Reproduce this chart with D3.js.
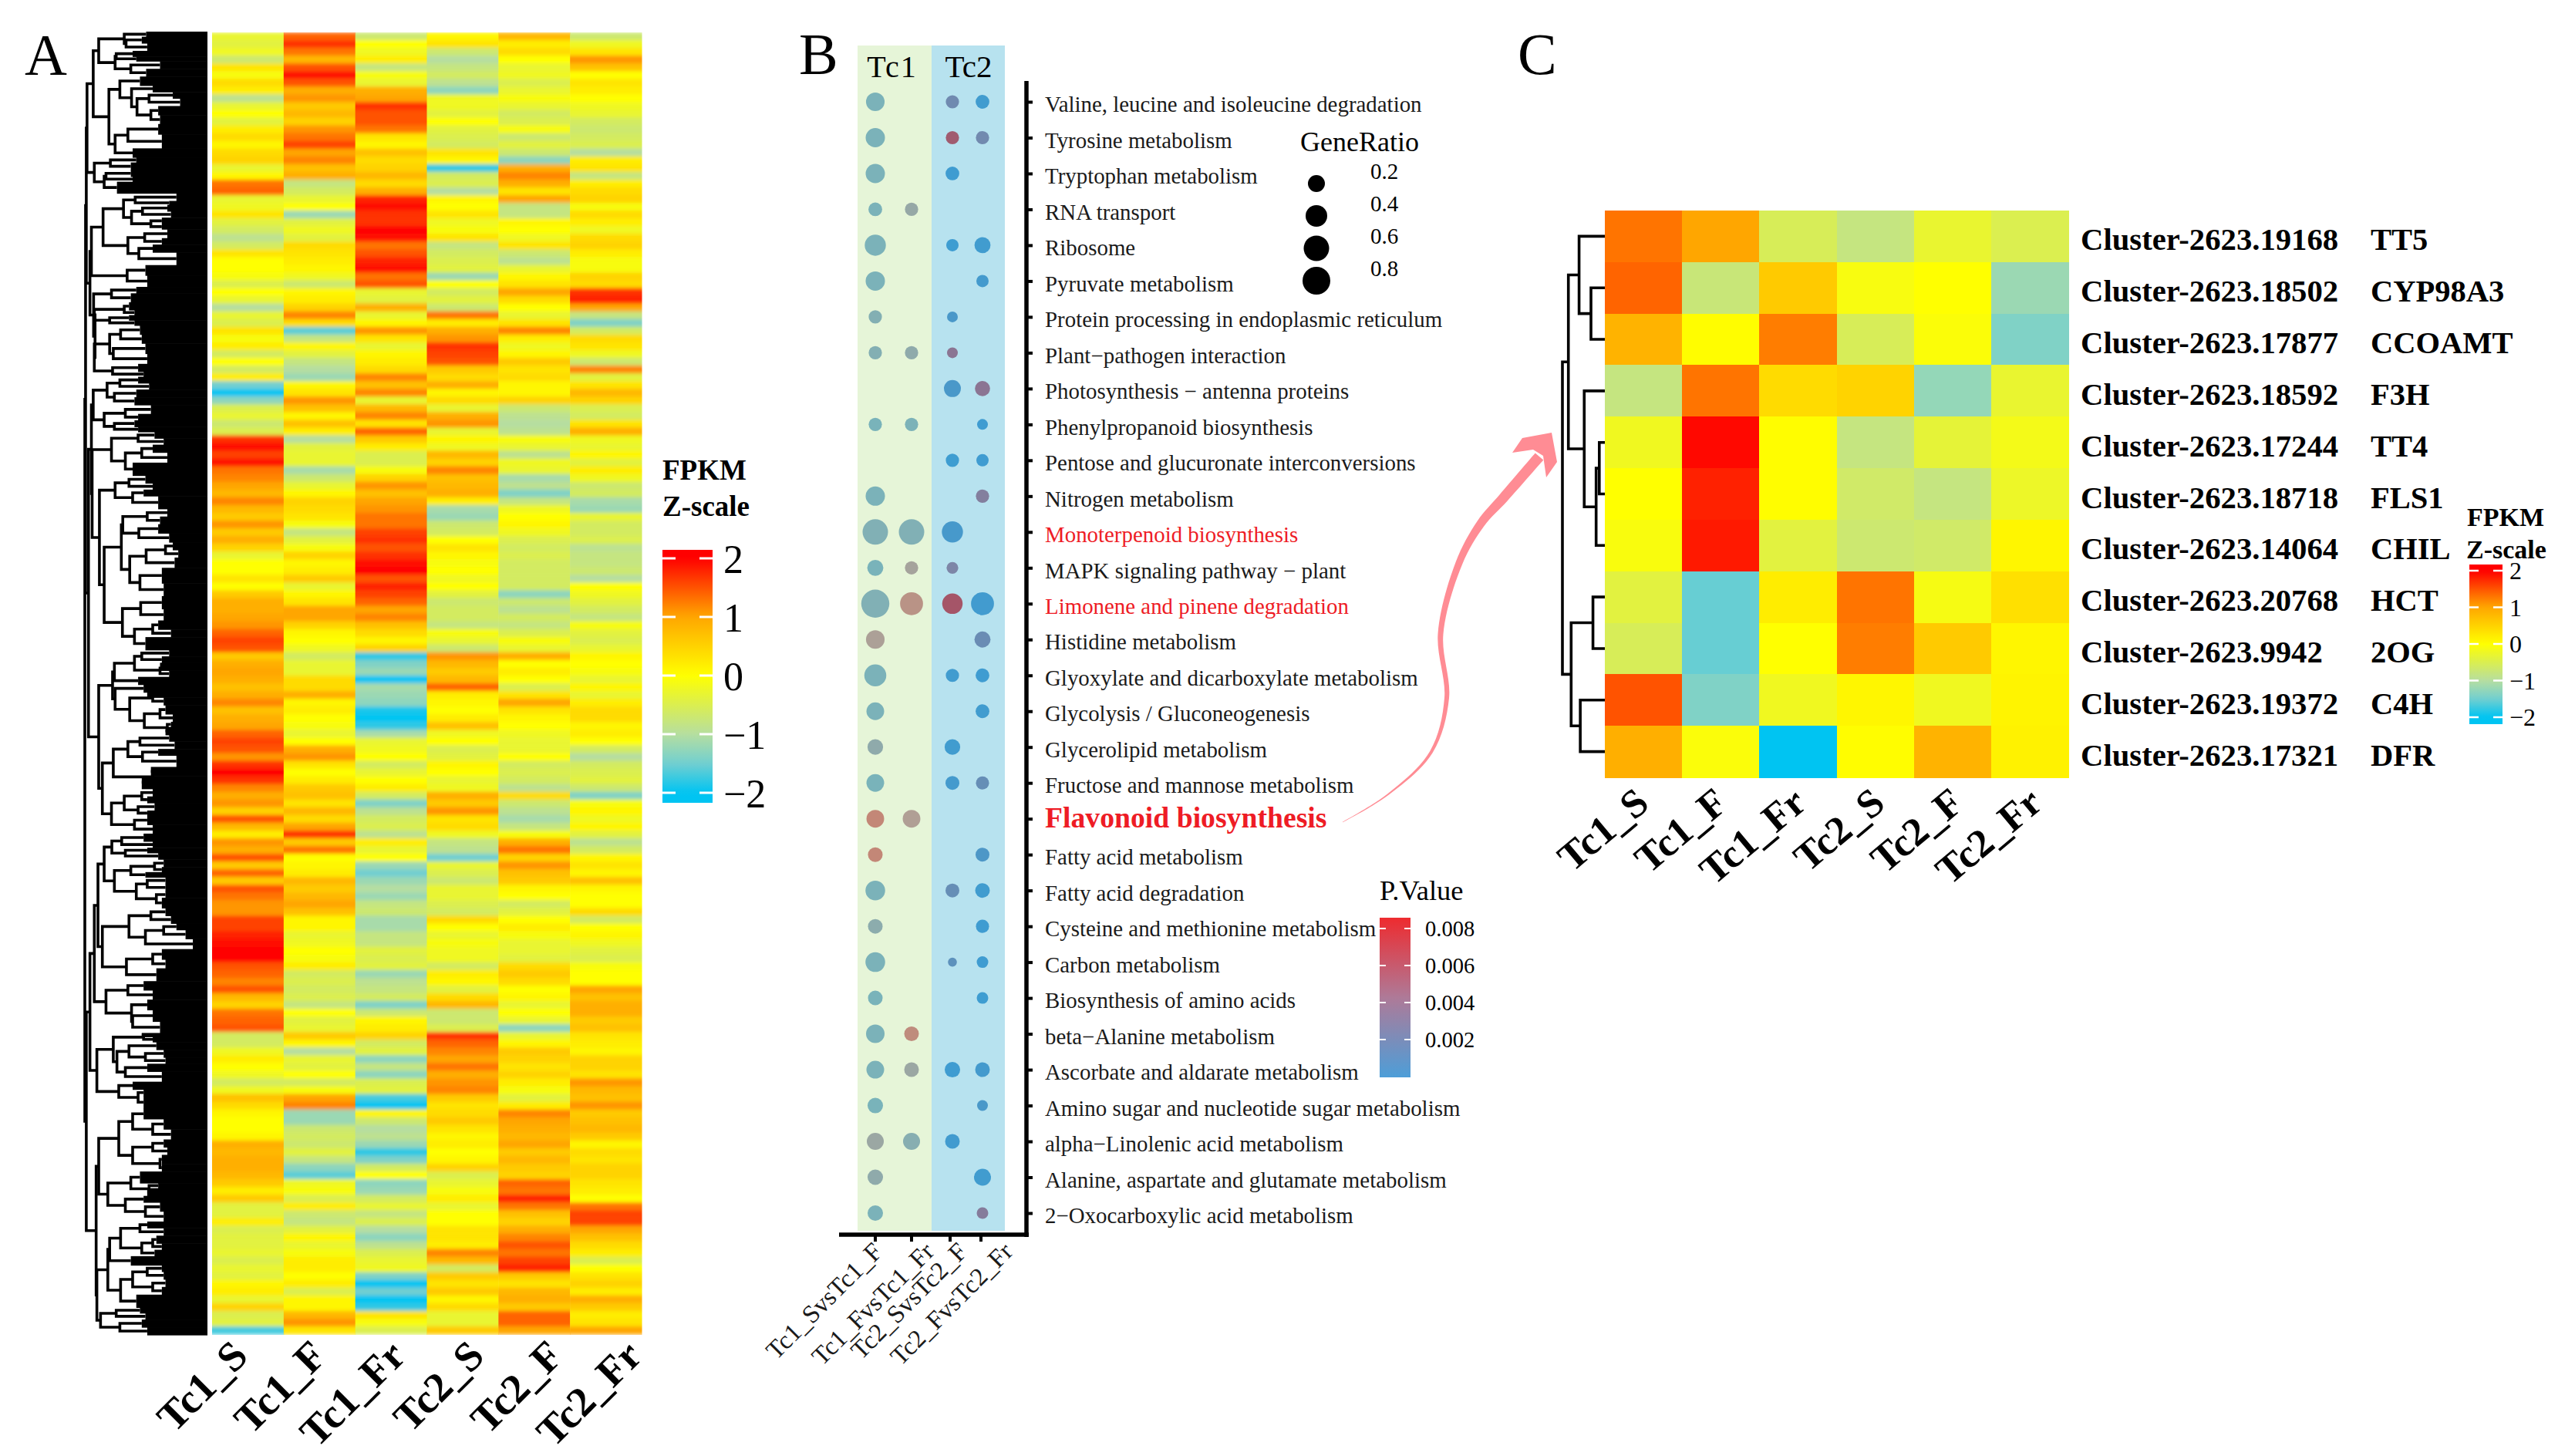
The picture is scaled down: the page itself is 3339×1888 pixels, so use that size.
<!DOCTYPE html>
<html><head><meta charset="utf-8">
<style>html,body{margin:0;padding:0;background:#fff}svg{display:block}text{font-family:"Liberation Serif",serif;fill:#000}</style>
<script src="https://cdn.jsdelivr.net/npm/d3@7"></script></head><body>
<script>
// ---------- Panel A values (z-score x 10, row by row from the top)
const samples=["Tc1_S","Tc1_F","Tc1_Fr","Tc2_S","Tc2_F","Tc2_Fr"];
const aTc1S=[-3,-4,-2,-7,3,-1,4,2,-9,-3,0,-4,2,4,1,4,5,-3,1,13,14,-3,-2,3,-4,-6,-9,-6,3,0,0,-1,-5,0,-3,-10,-3,-5,3,-1,2,-6,
0,-6,2,-15,-20,-13,-5,-3,-7,-5,17,19,16,19,13,12,10,8,12,8,6,11,6,9,5,-3,0,0,3,0,6,9,9,10,11,14,16,15,6,9,10,9,
7,9,12,7,9,10,14,16,15,11,17,20,17,12,9,11,5,15,8,2,11,9,15,6,14,6,15,13,11,11,16,16,18,19,20,20,15,14,12,15,8,5,
13,14,15,-6,-6,-2,2,0,-2,-6,-2,7,4,1,0,0,1,9,8,9,9,8,6,2,6,-4,-4,2,-5,-4,-4,-3,-5,-3,-4,1,2,-3,5,-5,-4,-17];
const aTc1F=[14,17,13,8,15,19,15,9,11,6,8,5,11,13,16,10,12,7,9,-8,-6,-3,0,-12,-4,-2,-4,4,3,2,1,-2,-7,1,2,5,12,4,-16,-8,1,-4,
-8,-10,-12,1,3,11,7,1,7,2,-10,-4,-3,-3,-11,-7,-3,1,5,4,3,-1,-8,-4,-1,5,1,2,6,-3,1,3,10,10,5,1,0,-2,-6,-3,-3,4,
4,9,1,2,0,-1,-3,0,9,11,3,0,2,6,7,3,8,4,10,17,6,13,0,1,2,8,6,8,10,7,1,1,-3,-2,0,-1,2,-6,-5,-6,-5,-8,
0,-4,-3,6,1,-10,-3,-4,0,-6,-1,10,12,-12,-12,-7,-6,-7,-4,-8,-13,-16,-2,-1,-5,2,-7,-8,-4,1,-3,-1,2,2,0,2,-5,1,1,8,11,3];
const aTc1Fr=[-7,0,-2,2,-8,-1,-3,9,10,17,15,15,13,3,1,7,4,5,8,4,9,18,19,17,17,20,19,13,15,18,19,13,15,-3,-4,9,-3,1,11,3,-3,1,
2,4,12,7,12,-3,8,12,3,14,6,2,-5,-5,-1,5,11,7,10,11,13,13,16,17,15,17,19,20,15,18,16,14,10,12,7,4,1,5,-18,-14,-12,-20,
-11,-12,-13,-19,-20,-18,-11,-3,-2,0,-6,-3,0,2,-6,-14,-9,-6,-5,-9,2,-3,0,-12,-15,-12,-10,-12,-8,-7,-11,-11,-8,-8,-4,-5,-4,-12,-9,-8,-6,-14,
-7,1,2,5,-6,-4,-13,-8,-13,-5,-4,-17,-20,1,-7,-10,-9,-12,-18,-14,-6,0,-13,-12,-6,-3,-8,-5,-10,-13,-9,-5,-3,-2,-14,-20,-15,-20,-18,3,-1,-5];
const aTc2S=[1,3,-7,-10,-8,-6,-9,-13,-2,-2,-4,0,-4,-5,-6,3,1,-18,-6,-5,-10,1,0,3,-2,-1,3,-8,-6,-5,-4,-12,0,-6,-4,-7,13,2,9,11,17,16,
15,6,4,9,1,4,-3,9,11,-3,1,-2,8,5,12,7,8,9,2,-11,-12,-7,-6,0,3,1,-1,0,-2,0,-4,-7,-6,-6,-8,-1,-3,-7,11,8,6,8,
14,2,1,0,2,7,-2,0,-5,-4,1,0,-3,-2,9,6,11,3,4,-2,-8,-9,-15,-3,-5,-7,-3,-3,-5,-6,4,0,-3,-1,-2,-2,-6,2,1,-4,4,8,
-7,-7,-5,17,14,12,10,13,9,11,12,6,3,4,6,3,1,2,0,1,5,-5,-3,-1,2,-3,0,0,3,3,2,12,8,-6,6,3,6,1,4,-3,-3,6];
const aTc2F=[8,2,4,0,-3,-2,-5,-3,-1,-3,-6,-5,-1,-7,-4,-7,-13,9,12,9,3,10,-8,-8,1,0,-2,3,-7,-9,-3,1,3,10,4,0,-3,3,12,2,-2,1,
6,3,4,1,1,5,-7,-9,-10,-9,-1,-3,-9,-2,-3,-11,-9,-14,-8,-2,0,1,-2,-5,-6,-5,-6,-6,-6,-6,-13,-7,-9,-6,-8,-5,-1,-3,9,0,2,0,
-5,3,10,3,1,0,-2,-3,-3,0,-6,-5,-6,-9,4,-7,-9,-11,-8,-1,9,13,5,11,7,6,1,0,-6,-4,0,2,-1,-3,-3,-4,4,6,4,0,1,-3,
0,-3,-13,-3,1,6,5,3,5,2,-1,-4,2,12,10,9,8,10,6,8,6,5,14,13,18,13,7,5,9,12,15,13,16,18,6,3,8,9,6,14,14,10];
const aTc2Fr=[-7,-2,3,11,7,0,3,2,0,-2,-3,-6,-7,-6,-5,-10,2,3,-8,2,4,5,-1,4,2,-2,4,5,2,-1,-1,5,4,17,18,10,-8,-14,-6,4,3,-2,
-7,12,-4,3,8,5,-5,-6,3,9,-2,-3,1,-4,2,-2,-7,-6,-11,-12,-3,-6,-6,-5,-9,-8,-8,-7,-10,0,-2,-4,-6,-8,-1,-4,-5,-3,1,0,-1,-3,
1,-3,2,4,4,1,2,0,-6,-10,-6,-5,-4,-7,-14,-1,1,-2,1,-4,-9,-6,1,3,1,7,1,0,0,4,-6,0,1,-2,-4,-5,-1,0,0,10,7,9,
9,6,7,3,2,1,5,5,3,11,8,7,11,6,7,8,6,1,4,3,5,5,3,2,0,13,16,16,10,7,4,2,-5,0,3,5,2,9,6,2,3,10];
const aColumns=[aTc1S,aTc1F,aTc1Fr,aTc2S,aTc2F,aTc2Fr];
const legendZ=[2,1,0,-1,-2];

// Panel A row dendrogram: [mergeHeight, childA, childB]; leaf cluster: [height, rowWeight]
const G1=[313,[298,[228,[168,20],[223,[180,25],[165,30]]],[253,[250,[205,22],[195,18]],[210,[130,30],[168,30]]]],[270,[240,[185,35],[208,[150,25],[193,[160,[95,25],[75,30]],[155,[135,35],[130,35]]]]],[253,[218,[135,40],[125,55]],[205,35]]]];
const G2=[310,[266,[195,20],[210,30]],[283,[278,[210,25],[205,20]],[248,45]]];
const G3=[318,[286,[230,[198,[85,30],[105,15]],[208,[178,[110,25],[100,25]],[155,[125,25],[125,20]]]],[218,[172,[110,35],[125,25]],[188,[150,30],[85,50]]]],[220,[170,40],[165,45]]];
const G4=[263,[195,25],[210,35]];
const G5=[310,[228,[215,30],[200,20]],[268,[215,20],[200,20]]];
const G6=[310,[268,[238,[185,35],[180,35]],[258,[170,40],[165,40]]],[260,[190,30],[175,20]]];
const G7=[275,[240,[190,25],[160,25]],[255,[195,30],[200,30]]];
const G8=[283,[225,[155,35],[190,25]],[255,[200,25],[190,20]]];
const G9=[263,[190,[145,25],[120,25]],[225,[180,[150,30],[110,40]],[205,50]]];
const G10=[253,[215,[170,30],[150,25]],[205,[175,25],[135,50]]];
const G11=[236,[232,[165,[110,30],[130,30]],[188,[135,35],[105,35]]],[213,[168,[115,[95,30],[80,30]],[90,40]],[185,[125,60],[120,50]]]];
const G12=[233,[183,[125,50],[120,45]],[200,[150,[135,35],[100,30]],[170,50]]];
const G13=[255,[200,[180,[105,25],[125,25]],[130,[130,30],[105,25]]],[190,30]];
const G14=[253,[175,30],[213,[150,[165,20],[120,30]],[173,[130,[115,35],[95,30]],[110,[100,20],[115,31]]]]];
const G15=[258,[218,[185,[105,25],[90,30]],[178,[135,25],[85,45]]],[150,[155,35],[180,50]]];
const G16=[263,[228,[180,[150,30],[165,25]],[190,[145,30],[165,20]]],[200,[165,35],[150,35]]];
const G17=[283,[262,[235,[175,30],[150,25]],[225,[165,20],[135,25]]],[255,[210,[145,[120,30],[125,20]],[170,20]],[195,[165,[115,25],[115,30]],[140,[115,25],[125,40]]]]];
const G18=[288,[215,[155,[115,30],[100,30]],[170,[120,[85,25],[60,35]],[40,40]]],[222,[150,[125,40],[115,35]],[140,50]]];
const G19=[278,[218,[175,35],[150,37]],[208,[165,40],[205,[150,45],[130,45]]]];
const G20=[258,[175,[180,15],[150,20]],[248,[215,[140,30],[170,[120,30],[115,25]]],[225,[165,30],[125,40]]]];
const G21=[243,[205,30],[190,[175,25],[175,50]]];
const G22=[243,[205,[175,40],[150,[120,40],[100,40]]],[205,[150,[120,30],[110,30]],[130,[125,35],[125,30]]]];
const G23=[273,[210,[185,45],[160,[135,20],[165,30]]],[225,[175,25],[170,[130,35],[120,40]]]];
const G24=[268,[238,[185,[165,25],[120,30]],[180,[150,[140,30],[125,25]],[145,25]]],[210,35]];
const G25=[238,[205,[165,[125,25],[120,30]],[150,[115,30],[125,30]]],[195,50]];
const G26=[293,[250,[185,22],[170,25]],[240,[180,30],[165,30]]];
const aTree=[336,
 [334,[332,[330,G1,G2],[322,G3,[312,G4,[308,G5,G6]]]],
      [326,[318,[313,G7,G8],[316,G9,[296,G10,[283,G11,G12]]]],[298,[260,G13,G14],[288,G15,G16]]]],
 [332,[322,[310,[300,G17,G18],G19],[303,G20,G21]],
      [305,[298,G22,G23],[303,[273,G24,G25],G26]]]];

// ---------- Panel B values
const pathways=["Valine, leucine and isoleucine degradation","Tyrosine metabolism","Tryptophan metabolism","RNA transport","Ribosome","Pyruvate metabolism","Protein processing in endoplasmic reticulum","Plant\u2212pathogen interaction","Photosynthesis \u2212 antenna proteins","Phenylpropanoid biosynthesis","Pentose and glucuronate interconversions","Nitrogen metabolism","Monoterpenoid biosynthesis","MAPK signaling pathway \u2212 plant","Limonene and pinene degradation","Histidine metabolism","Glyoxylate and dicarboxylate metabolism","Glycolysis / Gluconeogenesis","Glycerolipid metabolism","Fructose and mannose metabolism","Flavonoid biosynthesis","Fatty acid metabolism","Fatty acid degradation","Cysteine and methionine metabolism","Carbon metabolism","Biosynthesis of amino acids","beta\u2212Alanine metabolism","Ascorbate and aldarate metabolism","Amino sugar and nucleotide sugar metabolism","alpha\u2212Linolenic acid metabolism","Alanine, aspartate and glutamate metabolism","2\u2212Oxocarboxylic acid metabolism"];
const comparisons=["Tc1_SvsTc1_F","Tc1_FvsTc1_Fr","Tc2_SvsTc2_F","Tc2_FvsTc2_Fr"];
const N=null;
const ratio1=[.27,.3,.3,.13,.38,.3,.12,.12,N,.12,N,.3,.6,.18,.83,.27,.42,.23,.17,.23,.23,.15,.317,.15,.317,.15,.267,.233,.167,.2,.167,.167];
const ratio2=[N,N,N,.12,N,N,N,.12,N,.12,N,N,.6,.12,.47,N,N,N,N,N,.23,N,N,N,N,N,.15,.15,N,.2,N,N];
const ratio3=[.12,.12,.13,N,.1,N,.075,.075,.2,N,.12,N,.38,.09,.35,N,.12,N,.17,.133,N,N,.133,N,.045,N,N,.167,N,.15,N,N];
const ratio4=[.13,.12,N,N,.18,.1,N,N,.16,.075,.1,.12,N,N,.47,.18,.13,.13,N,.117,N,.133,.15,.117,.0875,.0875,N,.15,.075,N,.2,.0875];
const pval1=[.0006,.0006,.0006,.0006,.0006,.0006,.0012,.0012,N,.0005,N,.0006,.001,.0005,.001,.004,.0006,.0006,.002,.0005,.0062,.0062,.0006,.0018,.0006,.0005,.0006,.0006,.0005,.0028,.002,.0006];
const pval2=[N,N,N,.0025,N,N,N,.002,N,.0007,N,N,.001,.0035,.0052,N,N,N,N,N,.0042,N,N,N,N,N,.0058,.0028,N,.0014,N,N];
const pval3=[.0034,.0075,.0003,N,.0002,N,.001,.0055,.001,N,.0002,N,.0008,.0042,.008,N,.0004,N,.0004,.0006,N,N,.0028,N,.0022,N,N,.0003,N,.0005,N,N];
const pval4=[.0004,.0035,N,N,.0004,.0006,N,N,.0055,.0003,.0003,.0048,N,N,.0005,.003,.0003,.0004,N,.0028,N,.0012,.0004,.0003,.0003,.0002,N,.0006,.001,N,.0004,.005];
const ratioLegend=[.2,.4,.6,.8];
const pLegend=[.008,.006,.004,.002];

// ---------- Panel C values
const clusterIds=["Cluster-2623.19168","Cluster-2623.18502","Cluster-2623.17877","Cluster-2623.18592","Cluster-2623.17244","Cluster-2623.18718","Cluster-2623.14064","Cluster-2623.20768","Cluster-2623.9942","Cluster-2623.19372","Cluster-2623.17321"];
const geneNames=["TT5","CYP98A3","CCOAMT","F3H","TT4","FLS1","CHIL","HCT","2OG","C4H","DFR"];
const cTT5=[1.3,1.0,-.55,-.8,-.3,-.5];
const cCYP=[1.4,-.75,.6,-.1,0,-1.2];
const cCCO=[.85,.02,1.25,-.55,-.05,-1.4];
const cF3H=[-.8,1.3,.4,.5,-1.25,-.3];
const cTT4=[-.2,1.95,.02,-.8,-.35,-.15];
const cFLS=[0,1.8,.02,-.65,-.8,-.25];
const cCHI=[-.08,1.85,-.4,-.7,-.65,.1];
const cHCT=[-.4,-1.55,.2,1.3,-.12,.35];
const c2OG=[-.55,-1.55,0,1.25,.6,.1];
const cC4H=[1.5,-1.4,-.2,.1,-.2,.12];
const cDFR=[.9,-.06,-2,.02,.85,.15];
const cRows=[cTT5,cCYP,cCCO,cF3H,cTT4,cFLS,cCHI,cHCT,c2OG,cC4H,cDFR];
// leaf = row index; node = [height, a, b]
const cTree=[107,[92,[65,0,[35,1,2]],[52,3,[22,[14,4,5],6]]],[85,[30,7,8],[62,9,10]]];

// ---------- drawing
const W=3339,H=1888;
const svg=d3.select("body").append("svg").attr("width",W).attr("height",H).attr("viewBox",[0,0,W,H]);
svg.append("rect").attr("width",W).attr("height",H).attr("fill","#fff");
const zColor=d3.scaleLinear().domain([-2,-1.5,-1,0,1,2]).range(["#00c4f2","#72cfd0","#b6dea0","#ffff00","#ffa600","#ff0000"]).clamp(true);
const defs=svg.append("defs");
const soft=defs.append("filter").attr("id","soft").attr("x",0).attr("y",0).attr("width",1).attr("height",1);
soft.append("feGaussianBlur").attr("stdDeviation","0 2.5").attr("edgeMode","duplicate");

function txt(g,x,y,s,size,o={}){
  const t=g.append("text").attr("x",x).attr("y",y).attr("font-size",size).text(s);
  if(o.bold)t.attr("font-weight","bold");
  if(o.anchor)t.attr("text-anchor",o.anchor);
  if(o.fill)t.style("fill",o.fill);
  if(o.rot!=null)t.attr("transform",`rotate(${o.rot} ${x} ${y})`);
  return t;
}
txt(svg,32,97,"A",76);
txt(svg,1036,96,"B",76);
txt(svg,1968,96,"C",76);

// ----- A heatmap
const A=svg.append("g");
const aX=d3.scaleBand().domain(samples).range([275,832]);
const aRowIdx=d3.range(aTc1S.length);
const aY=d3.scaleBand().domain(aRowIdx).range([42,1730]);
samples.forEach((s,c)=>{
  A.append("g").attr("filter","url(#soft)").selectAll("rect").data(aColumns[c]).join("rect")
   .attr("x",aX(s)).attr("width",aX.bandwidth()+.5)
   .attr("y",(d,i)=>aY(i)).attr("height",aY.bandwidth()+.5)
   .attr("fill",d=>zColor(d/10));
});
const aLab=d3.scalePoint().domain(samples).range([324,835]);
samples.forEach(s=>txt(A,aLab(s),1761,s,54,{bold:true,anchor:"end",rot:-45}));

// ----- A dendrogram
const aIsNode=d=>Array.isArray(d[1]);
const aRoot=d3.hierarchy(aTree,d=>aIsNode(d)?d.slice(1):null);
const aLeaves=aRoot.leaves();
const aTotal=d3.sum(aLeaves,l=>l.data[1]);
const treeY=d3.scaleLinear().domain([0,aTotal]).range([41,1731]);
const treeX=d3.scaleLinear().domain([0,336]).range([269,110]);
let acc=0;aLeaves.forEach(l=>{l.y0=acc;acc+=l.data[1];l.y1=acc;l.my=(l.y0+l.y1)/2;});
aRoot.eachAfter(n=>{if(n.children)n.my=(n.children[0].my+n.children[1].my)/2;});
const dA=A.append("g");
dA.selectAll("rect").data(aLeaves).join("rect")
  .attr("x",d=>treeX(d.data[0])).attr("width",d=>269-treeX(d.data[0]))
  .attr("y",d=>treeY(d.y0)).attr("height",d=>treeY(d.y1)-treeY(d.y0)+.6).attr("fill","#000");
const aNodes=aRoot.descendants().filter(n=>n.children);
dA.selectAll("path").data(aNodes).join("path").attr("fill","none").attr("stroke","#000").attr("stroke-width",3.6)
  .attr("d",n=>{const x=treeX(n.data[0]);const [a,b]=n.children;
     return `M${treeX(a.data[0])},${treeY(a.my)}H${x}V${treeY(b.my)}H${treeX(b.data[0])}`;});

// ----- z legend helper
function zLegend(id,x0,x1,yScale,y0,y1,dash,dashW){
  const g=svg.append("g");
  const grad=defs.append("linearGradient").attr("id",id).attr("x1",0).attr("x2",0).attr("y1",0).attr("y2",1);
  d3.range(0,41).forEach(i=>{const t=i/40;const v=yScale.invert(y0+t*(y1-y0));grad.append("stop").attr("offset",t).attr("stop-color",zColor(v));});
  g.append("rect").attr("x",x0).attr("y",y0).attr("width",x1-x0).attr("height",y1-y0).attr("fill",`url(#${id})`);
  legendZ.forEach(v=>{
    g.append("line").attr("x1",x0).attr("x2",x0+dash).attr("y1",yScale(v)).attr("y2",yScale(v)).attr("stroke","#fff").attr("stroke-width",dashW);
    g.append("line").attr("x1",x1-dash).attr("x2",x1).attr("y1",yScale(v)).attr("y2",yScale(v)).attr("stroke","#fff").attr("stroke-width",dashW);
  });
  return g;
}
const aZ=d3.scaleLinear().domain([2,-2]).range([724,1028]);
const aLeg=zLegend("gradA",859,924,aZ,713,1041,17,3);
txt(aLeg,859,622,"FPKM",37,{bold:true});
txt(aLeg,859,669,"Z-scale",37,{bold:true});
legendZ.forEach(v=>txt(aLeg,938,aZ(v)+19,v<0?"\u2212"+(-v):String(v),52));

// ----- B panel
const B=svg.append("g");
const bY=d3.scalePoint().domain(pathways).range([132,1573]);
const bX=d3.scaleOrdinal().domain(comparisons).range([1135,1182,1235,1274]);
const rScale=d3.scaleLinear().domain([0,.05,.1,.2,.4,.6,.8,1]).range([4,6,8,11,14,16.5,18,19.5]);
const pColor=d3.scaleLinear().domain([0,.0043,.0086]).range(["#4d9ed8","#ae7a98","#ee2b2f"]);
const ratios=[ratio1,ratio2,ratio3,ratio4],pvals=[pval1,pval2,pval3,pval4];
comparisons.forEach((c,ci)=>{
  const rows=pathways.map((p,i)=>({p,r:ratios[ci][i],v:pvals[ci][i]})).filter(d=>d.r!==null);
  B.append("g").selectAll("circle").data(rows).join("circle")
   .attr("cx",bX(c)).attr("cy",d=>bY(d.p)).attr("r",d=>rScale(d.r)).attr("fill",d=>pColor(d.v));
});
B.append("rect").attr("x",1112).attr("y",59).attr("width",96).attr("height",1537).attr("fill","#b8e290").attr("fill-opacity",.35);
B.append("rect").attr("x",1208).attr("y",59).attr("width",95).attr("height",1537).attr("fill","#0f9ec9").attr("fill-opacity",.3);
txt(B,1157,100,"Tc1",40,{anchor:"middle"}).attr("letter-spacing",2);
txt(B,1256,100,"Tc2",41,{anchor:"middle"});
const yAxis=B.append("g").attr("transform","translate(1333,0)").call(d3.axisRight(bY).tickSize(6).tickPadding(16));
yAxis.select(".domain").remove();
yAxis.selectAll("line").attr("stroke","#000").attr("stroke-width",4);
yAxis.selectAll("text").attr("font-family",null).attr("font-size",28.9).attr("dy",".44em").style("fill","#1a1a1a");
yAxis.selectAll("text").filter(d=>d==="Monoterpenoid biosynthesis"||d==="Limonene and pinene degradation").style("fill","#ee1c25");
yAxis.selectAll("text").filter(d=>d==="Flavonoid biosynthesis").style("fill","#ee1c25").attr("font-weight","bold").attr("font-size",37.7).attr("dy",".3em");
B.append("line").attr("x1",1331).attr("x2",1331).attr("y1",105).attr("y2",1604).attr("stroke","#000").attr("stroke-width",5.5);
B.append("line").attr("x1",1088).attr("x2",1334).attr("y1",1601).attr("y2",1601).attr("stroke","#000").attr("stroke-width",5.5);
const xTicks=[1135,1182,1232,1272];
comparisons.forEach((c,i)=>{
  B.append("line").attr("x1",xTicks[i]).attr("x2",xTicks[i]).attr("y1",1601).attr("y2",1610).attr("stroke","#000").attr("stroke-width",4);
  txt(B,[1146,1213,1256,1315][i],1625,c,33,{anchor:"end",rot:-45}).style("fill","#1a1a1a");
});
txt(B,1686,196,"GeneRatio",36);
const legY=d3.scalePoint().domain(ratioLegend).range([238,364]);
B.append("g").selectAll("circle").data(ratioLegend).join("circle").attr("cx",1707).attr("cy",d=>legY(d)).attr("r",d=>rScale(d)).attr("fill","#000");
ratioLegend.forEach(v=>txt(B,1777,legY(v)-16+10,v.toFixed(1),29));
txt(B,1789,1167,"P.Value",36.5);
const pAxisY=d3.scaleLinear().domain([.008,.002]).range([1204,1348]);
const pg=defs.append("linearGradient").attr("id","gradP").attr("x1",0).attr("x2",0).attr("y1",0).attr("y2",1);
pg.append("stop").attr("offset",0).attr("stop-color",pColor(.0086));
pg.append("stop").attr("offset",.5).attr("stop-color",pColor(.0043));
pg.append("stop").attr("offset",1).attr("stop-color",pColor(0));
B.append("rect").attr("x",1789).attr("y",1190).attr("width",40).attr("height",207).attr("fill","url(#gradP)");
pLegend.forEach(v=>{
  B.append("line").attr("x1",1821).attr("x2",1829).attr("y1",pAxisY(v)).attr("y2",pAxisY(v)).attr("stroke","#fff").attr("stroke-width",2);
  B.append("line").attr("x1",1789).attr("x2",1797).attr("y1",pAxisY(v)).attr("y2",pAxisY(v)).attr("stroke","#fff").attr("stroke-width",2);
  txt(B,1848,pAxisY(v)+10,v.toFixed(3),28.5);
});

// ----- pink arrow
const spine=[[1741,1066,.3],[1800,1030,1],[1856,975,2],[1876,905,3],[1868,822,3.5],[1892,730,4.5],[1920,679,5.5],[1950,645,6.5],[1996,592,7]];
function edge(sign){return spine.map((p,i)=>{const a=spine[Math.max(0,i-1)],b=spine[Math.min(spine.length-1,i+1)];
  const dx=b[0]-a[0],dy=b[1]-a[1],l=Math.hypot(dx,dy);return [p[0]+sign*p[2]*dy/l,p[1]-sign*p[2]*dx/l];});}
const curve=d3.line().curve(d3.curveCatmullRom);
svg.append("path").attr("d",curve(edge(1))+"L"+curve(edge(-1).reverse()).slice(1)+"Z").attr("fill","#ff8c94");
svg.append("polygon").attr("points","2012,561 2019,599 2005,619 2001,591 1988,583 1961,587 1974,568").attr("fill","#ff8c94");

// ----- C panel
const C=svg.append("g");
const cX=d3.scaleBand().domain(samples).range([2081,2682]);
const cY=d3.scaleBand().domain(d3.range(cRows.length)).range([273,1008]);
cRows.forEach((row,r)=>{
  C.append("g").attr("shape-rendering","crispEdges").selectAll("rect").data(row).join("rect")
   .attr("x",(d,i)=>cX(samples[i])).attr("y",cY(r)).attr("width",cX.bandwidth()+.5).attr("height",cY.bandwidth()+.5).attr("fill",d=>zColor(d));
  txt(C,2698,cY(r)+cY.bandwidth()/2+18,clusterIds[r],40.7,{bold:true});
  txt(C,3074,cY(r)+cY.bandwidth()/2+18,geneNames[r],40.5,{bold:true});
});
const cLab=d3.scalePoint().domain(samples).range([2141,2651]);
samples.forEach(s=>txt(C,cLab(s),1046,s,52,{bold:true,anchor:"end",rot:-40}));
const cRoot=d3.hierarchy(cTree,d=>Array.isArray(d)?d.slice(1):null);
cRoot.eachAfter(n=>{n.my=n.children?(n.children[0].my+n.children[1].my)/2:cY(n.data)+cY.bandwidth()/2;});
const cTreeX=d3.scaleLinear().domain([0,107]).range([2081,2026]);
const hOf=n=>n.children?n.data[0]:0;
C.append("g").selectAll("path").data(cRoot.descendants().filter(n=>n.children)).join("path")
 .attr("fill","none").attr("stroke","#000").attr("stroke-width",3.6)
 .attr("d",n=>{const [a,b]=n.children;return `M${cTreeX(hOf(a))},${a.my}H${cTreeX(n.data[0])}V${b.my}H${cTreeX(hOf(b))}`;});
const cZ=d3.scaleLinear().domain([2,-2]).range([740,930]);
const cLeg=zLegend("gradC",3202,3245,cZ,732,939,12,2.5);
txt(cLeg,3199,682,"FPKM",34,{bold:true});
txt(cLeg,3198,724,"Z-scale",34,{bold:true});
legendZ.forEach(v=>txt(cLeg,3254,cZ(v)+11,v<0?"\u2212"+(-v):String(v),32));
</script></body></html>
